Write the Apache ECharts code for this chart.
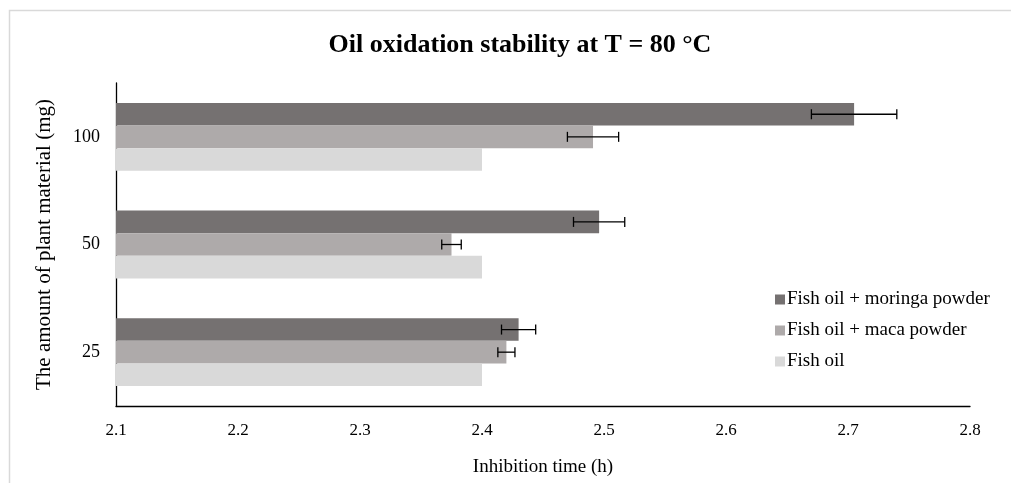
<!DOCTYPE html>
<html>
<head>
<meta charset="utf-8">
<script src="https://cdn.jsdelivr.net/npm/echarts@6/dist/echarts.min.js"></script>
<style>
  html, body { margin: 0; padding: 0; background: #fff; }
  #main { width: 1011px; height: 483px; }
</style>
</head>
<body>
<div id="main"></div>
<script>
// categories bottom to top
var categories = ['25', '50', '100'];
var seriesNames = ['Fish oil + moringa powder', 'Fish oil + maca powder', 'Fish oil'];

var moringa = [2.430, 2.496, 2.705];
var moringaErr = [0.014, 0.021, 0.035];
var maca = [2.420, 2.375, 2.491];
var macaErr = [0.007, 0.008, 0.021];
var fishOil = [2.4, 2.4, 2.4];

var colors = ['#757171', '#aeaaaa', '#d9d9d9'];
var BAR_W = 22.6;
var FONT = '"Liberation Serif", "Times New Roman", serif';

var myChart = echarts.init(document.getElementById('main'));

// error bars drawn with a custom series, offset to sit on the matching bar
function errorSeries(name, values, errs, slot) {
  var data = values.map(function (v, i) { return [i, v - errs[i], v + errs[i]]; });
  return {
    type: 'custom',
    name: name + ' err',
    z: 10,
    silent: true,
    renderItem: function (params, api) {
      var cat = api.value(0);
      var lo = api.coord([api.value(1), cat]);
      var hi = api.coord([api.value(2), cat]);
      var y = lo[1] + slot * BAR_W;
      var cap = 5;
      var style = { stroke: '#000', lineWidth: 1.3 };
      return {
        type: 'group',
        children: [
          { type: 'line', shape: { x1: lo[0], y1: y, x2: hi[0], y2: y }, style: style },
          { type: 'line', shape: { x1: lo[0], y1: y - cap, x2: lo[0], y2: y + cap }, style: style },
          { type: 'line', shape: { x1: hi[0], y1: y - cap, x2: hi[0], y2: y + cap }, style: style }
        ]
      };
    },
    encode: { x: [1, 2], y: 0 },
    data: data
  };
}

var option = {
  animation: false,
  title: {
    text: 'Oil oxidation stability at T = 80 °C',
    left: 515,
    textAlign: 'center',
    top: 27,
    textStyle: { fontFamily: FONT, fontSize: 26, fontWeight: 'bold', color: '#000' }
  },
  graphic: [
    {
      type: 'rect',
      shape: { x: 9.5, y: 10.5, width: 1100, height: 600 },
      style: { fill: 'none', stroke: '#d9d9d9', lineWidth: 1.5 },
      silent: true,
      z: -1
    }
  ],
  legend: {
    orient: 'vertical',
    left: 770,
    top: 285,
    itemWidth: 10,
    itemHeight: 10,
    itemGap: 12,
    icon: 'rect',
    data: seriesNames,
    textStyle: { fontFamily: FONT, fontSize: 19, color: '#000', padding: [0, 0, 0, -3] }
  },
  grid: {
    left: 116,
    right: 41,
    top: 83,
    bottom: 77,
    containLabel: false
  },
  xAxis: {
    type: 'value',
    min: 2.1,
    max: 2.8,
    interval: 0.1,
    name: 'Inhibition time (h)',
    nameLocation: 'middle',
    nameGap: 52,
    nameTextStyle: { fontFamily: FONT, fontSize: 19, color: '#000' },
    axisLine: { show: true, lineStyle: { color: '#000', width: 1.3 } },
    axisTick: { show: false },
    splitLine: { show: false },
    axisLabel: {
      fontFamily: FONT, fontSize: 17, color: '#000', margin: 16,
      formatter: function (v) { return v.toFixed(1); }
    }
  },
  yAxis: {
    type: 'category',
    data: categories,
    name: 'The amount of plant material (mg)',
    nameLocation: 'middle',
    nameGap: 61,
    nameTextStyle: { fontFamily: FONT, fontSize: 21, color: '#000' },
    axisLine: { show: true, lineStyle: { color: '#000', width: 1.3 } },
    axisTick: { show: false },
    axisLabel: { fontFamily: FONT, fontSize: 18, color: '#000', margin: 16 }
  },
  series: [
    {
      name: seriesNames[0], type: 'bar', data: moringa,
      barWidth: BAR_W, barGap: '0%',
      itemStyle: { color: colors[0] }
    },
    {
      name: seriesNames[1], type: 'bar', data: maca,
      barWidth: BAR_W, barGap: '0%',
      itemStyle: { color: colors[1] }
    },
    {
      name: seriesNames[2], type: 'bar', data: fishOil,
      barWidth: BAR_W, barGap: '0%',
      itemStyle: { color: colors[2] }
    },
    errorSeries(seriesNames[0], moringa, moringaErr, -1),
    errorSeries(seriesNames[1], maca, macaErr, 0)
  ]
};

myChart.setOption(option);
</script>
</body>
</html>
